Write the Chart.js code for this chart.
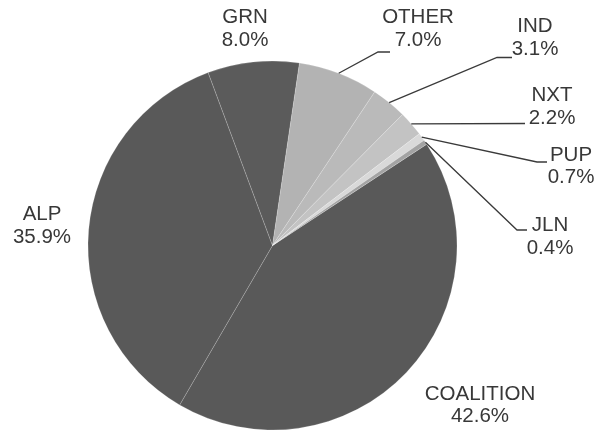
<!DOCTYPE html>
<html>
<head>
<meta charset="utf-8">
<script src="https://cdn.jsdelivr.net/npm/chart.js@4.4.1/dist/chart.umd.min.js"></script>
<style>
  html, body { margin: 0; padding: 0; background: #ffffff; }
  #wrap { width: 596px; height: 434px; }
</style>
</head>
<body>
<div id="wrap"><canvas id="c" width="596" height="434"></canvas></div>
<script>
// ---- data ----
const parties = ['COALITION', 'ALP', 'GRN', 'OTHER', 'IND', 'NXT', 'PUP', 'JLN'];
const shares = [42.6, 35.9, 8.0, 7.0, 3.1, 2.2, 0.7, 0.4];
const sliceColors = ['#595959', '#595959', '#5b5b5b', '#b3b3b3', '#bababa', '#c3c3c3', '#d9d9d9', '#a3a3a3'];

// ---- label layout (text centre of first line; leader elbow / end) ----
const labelPos = {
  'COALITION': { x: 480, y: 394 },
  'ALP':       { x: 42,  y: 214.5 },
  'GRN':       { x: 245, y: 17.5 },
  'OTHER':     { x: 418, y: 17.5 },
  'IND':       { x: 535, y: 26.5 },
  'NXT':       { x: 552, y: 95.5 },
  'PUP':       { x: 571, y: 155 },
  'JLN':       { x: 550, y: 225.5 }
};
const leaderPath = {
  'OTHER': [[378, 52], [390, 52]],
  'IND':   [[497, 57.5], [512, 57.5]],
  'NXT':   [[525, 123.5]],
  'PUP':   [[537, 162], [547, 162]],
  'JLN':   [[517, 230], [527, 230]]
};

const labelPlugin = {
  id: 'pieLabels',
  afterDraw(chart) {
    const ctx = chart.ctx;
    const meta = chart.getDatasetMeta(0);
    ctx.save();
    meta.data.forEach((arc, i) => {
      const name = parties[i];
      const mid = (arc.startAngle + arc.endAngle) / 2;
      const sx = arc.x + Math.cos(mid) * arc.outerRadius;
      const sy = arc.y + Math.sin(mid) * arc.outerRadius;
      const path = leaderPath[name];
      if (path) {
        ctx.beginPath();
        ctx.strokeStyle = '#3a3a3a';
        ctx.lineWidth = 1.3;
        ctx.moveTo(sx, sy);
        path.forEach(p => ctx.lineTo(p[0], p[1]));
        ctx.stroke();
      }
      const lp = labelPos[name];
      ctx.fillStyle = '#383838';
      ctx.font = '20.5px "Liberation Sans", Arial, sans-serif';
      ctx.textAlign = 'center';
      ctx.textBaseline = 'middle';
      ctx.fillText(name, lp.x, lp.y);
      ctx.fillText(shares[i].toFixed(1) + '%', lp.x, lp.y + 22.5);
    });
    ctx.restore();
  }
};

new Chart(document.getElementById('c'), {
  type: 'pie',
  data: {
    labels: parties,
    datasets: [{
      data: shares,
      backgroundColor: sliceColors,
      borderColor: 'rgba(255,255,255,0.18)',
      borderWidth: 1
    }]
  },
  options: {
    responsive: false,
    animation: false,
    rotation: 56.7,
    layout: { padding: { top: 60.5, bottom: 3.5, left: 87.5, right: 138.5 } },
    plugins: {
      legend: { display: false },
      tooltip: { enabled: false }
    }
  },
  plugins: [labelPlugin]
});
</script>
</body>
</html>
